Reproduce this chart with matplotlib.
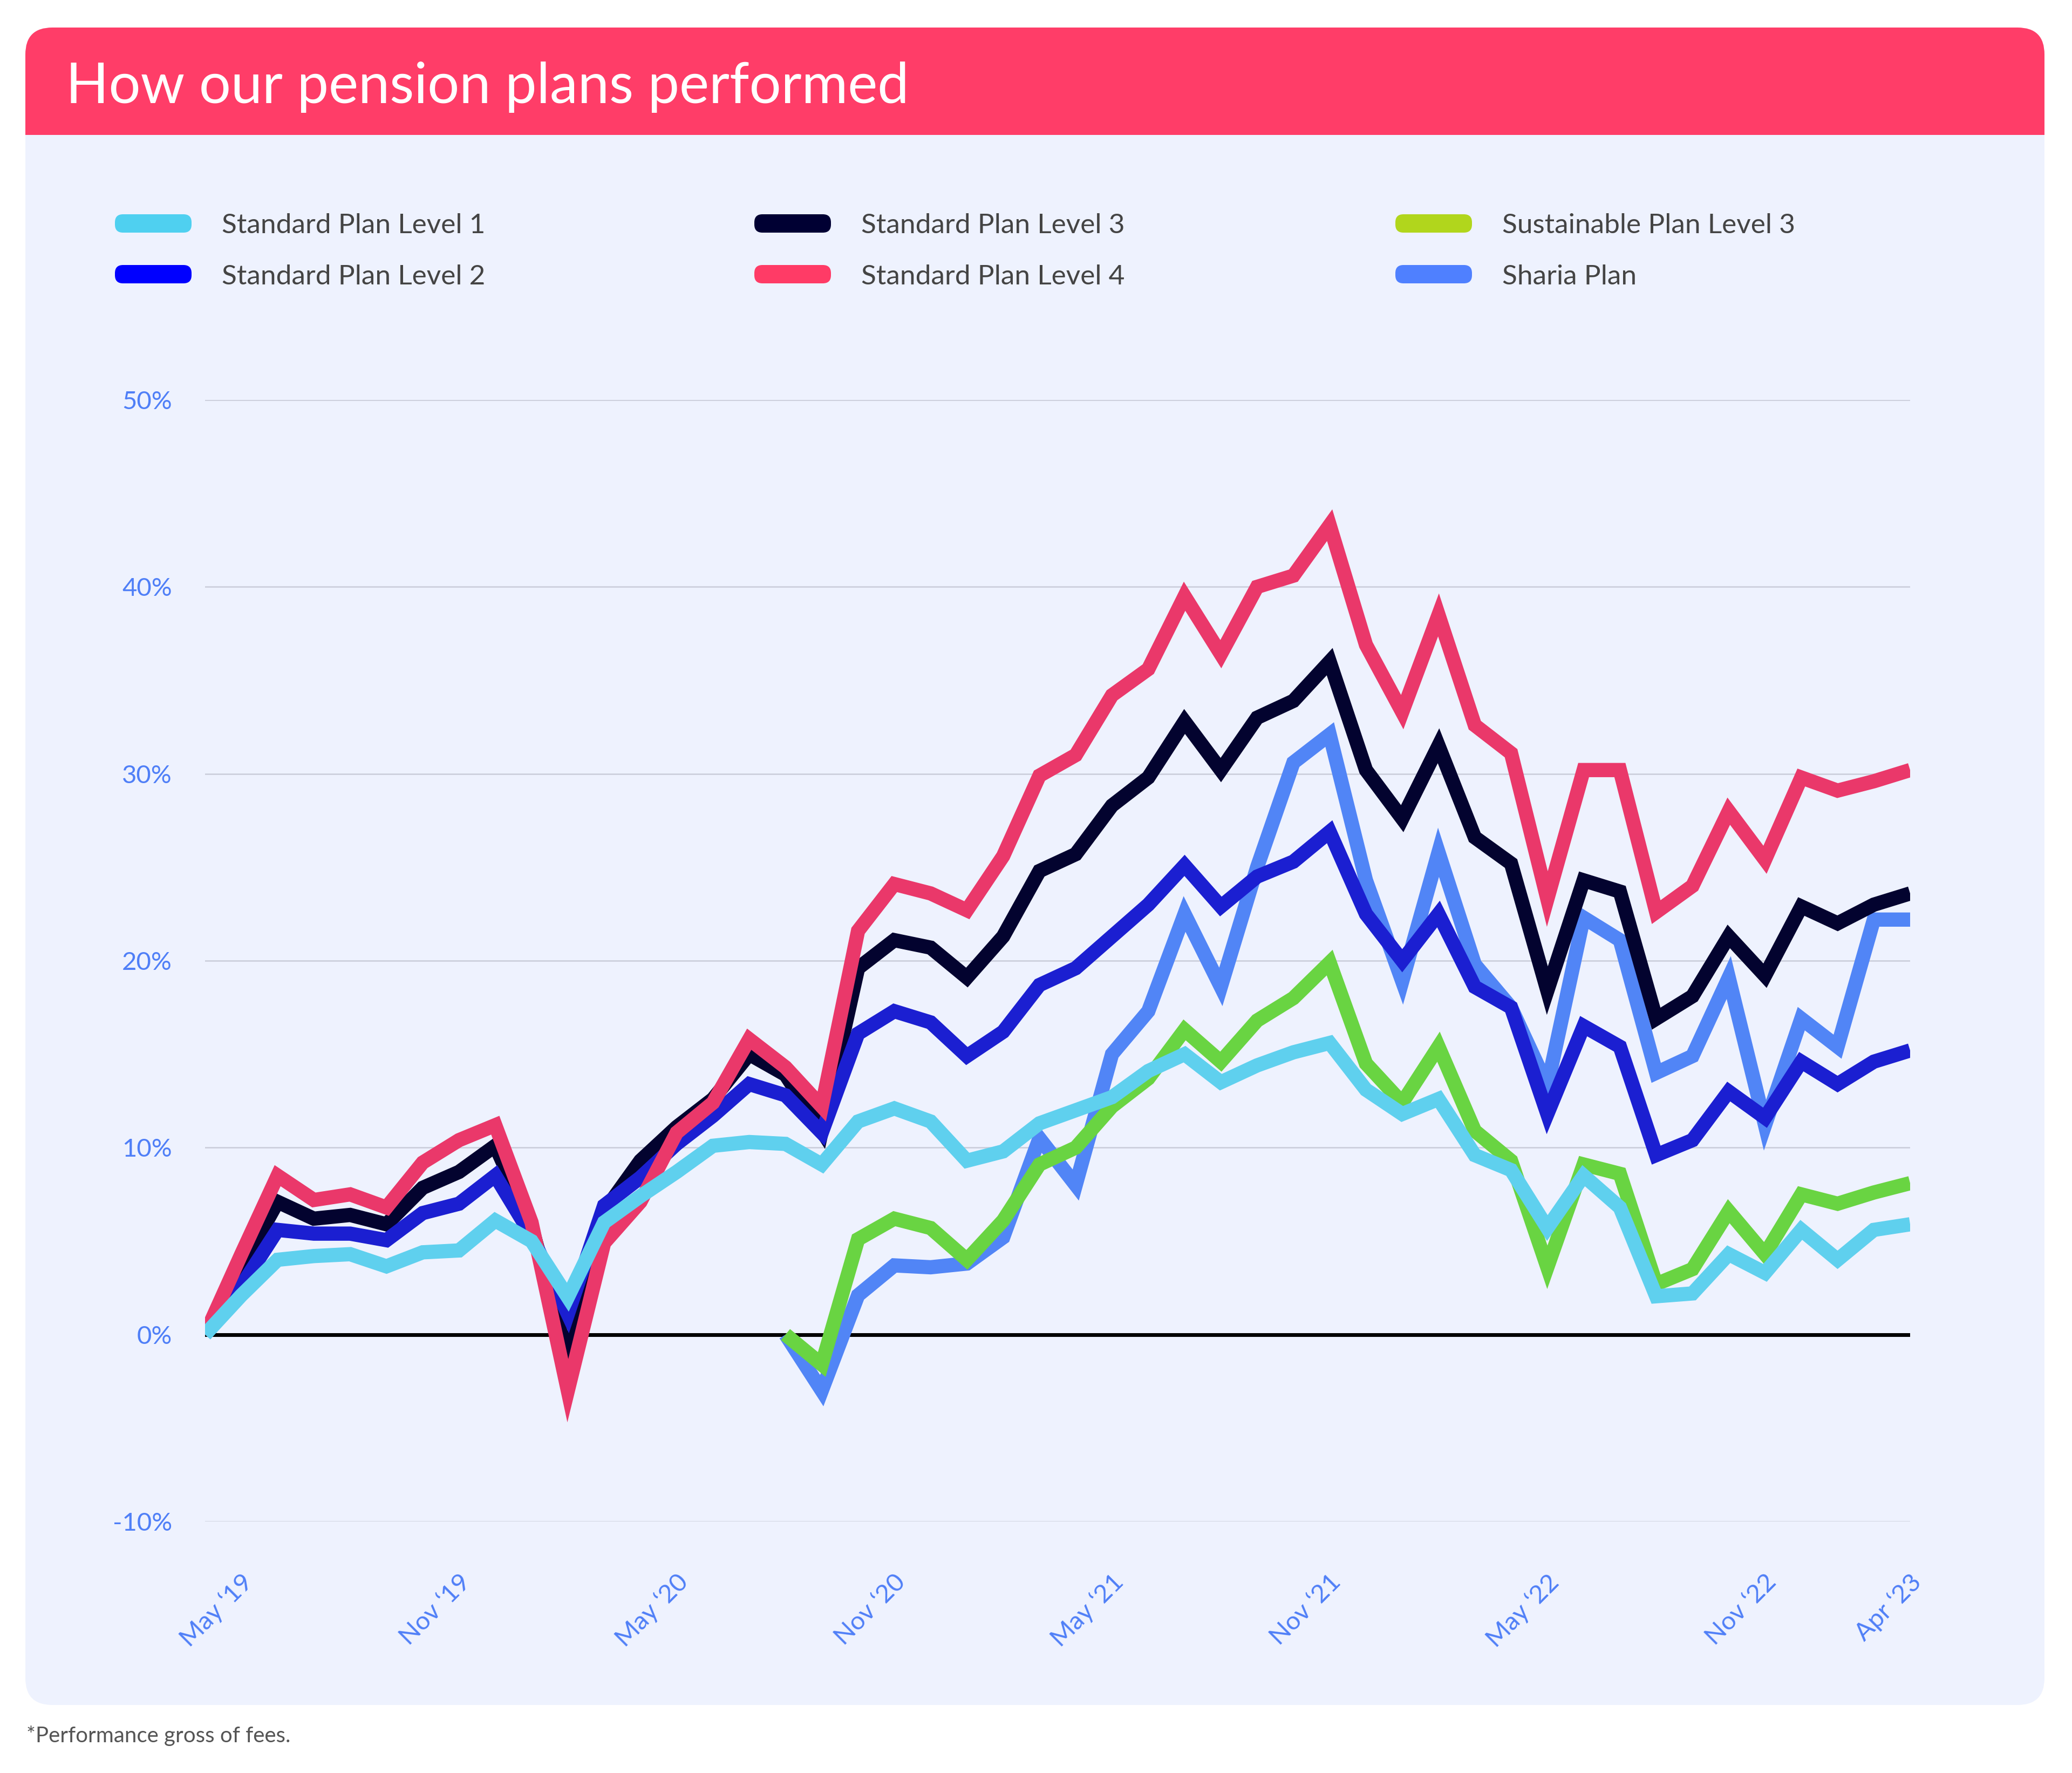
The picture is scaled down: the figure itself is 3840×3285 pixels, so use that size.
import matplotlib
matplotlib.use("Agg")
import matplotlib.pyplot as plt
from matplotlib.patches import FancyBboxPatch, Rectangle
from matplotlib.transforms import ScaledTranslation

plt.rcParams['font.family'] = ['Lato', 'DejaVu Sans']

# monthly cumulative performance (%), 48 points
level1 = [0, 2.1, 4.0, 4.2, 4.3, 3.65, 4.4, 4.5, 6.1, 5.0, 2.0, 6.0, 7.4, 8.7, 10.1, 10.3,
          10.2, 9.1, 11.4, 12.1, 11.4, 9.3, 9.8, 11.3, 12.0, 12.7, 14.1, 15.0, 13.5, 14.4, 15.1, 15.6,
          13.1, 11.8, 12.6, 9.6, 8.8, 5.7, 8.5, 6.8, 2.05, 2.2, 4.3, 3.3, 5.6, 4.0, 5.6, 5.9]
level2 = [0, 2.6, 5.6, 5.4, 5.4, 5.05, 6.5, 7.0, 8.5, 5.3, 1.1, 6.9, 8.4, 10.2, 11.7, 13.4,
          12.8, 10.8, 16.1, 17.3, 16.7, 14.9, 16.2, 18.7, 19.6, 21.3, 23.0, 25.1, 22.9, 24.5, 25.3, 26.9,
          22.5, 20.0, 22.5, 18.6, 17.5, 11.8, 16.5, 15.4, 9.6, 10.4, 13.0, 11.6, 14.6, 13.4, 14.6, 15.2]
level3 = [0, 3.6, 7.1, 6.2, 6.4, 5.9, 7.85, 8.7, 10.1, 5.8, -1.3, 6.6, 9.3, 11.1, 12.6, 15.0,
          13.9, 10.9, 19.6, 21.1, 20.7, 19.1, 21.3, 24.8, 25.7, 28.3, 29.8, 32.8, 30.2, 33.0, 33.9, 36.0,
          30.2, 27.6, 31.5, 26.6, 25.2, 18.4, 24.3, 23.7, 16.9, 18.1, 21.3, 19.2, 22.9, 22.0, 23.0, 23.6]
level4 = [0, 4.3, 8.5, 7.2, 7.5, 6.8, 9.2, 10.4, 11.2, 6.0, -3.0, 4.9, 7.1, 10.8, 12.4, 15.8,
          14.3, 12.2, 21.6, 24.1, 23.6, 22.7, 25.6, 29.9, 31.0, 34.2, 35.6, 39.5, 36.4, 40.0, 40.6, 43.3,
          36.9, 33.3, 38.5, 32.6, 31.1, 23.3, 30.2, 30.2, 22.6, 24.0, 28.0, 25.4, 29.8, 29.1, 29.6, 30.2]
sustainable = [None] * 16 + [0, -1.6, 5.1, 6.2, 5.7, 4.0, 6.1, 9.1, 10.0, 12.2, 13.7, 16.3, 14.6, 16.8, 18.0, 19.9,
                             14.5, 12.4, 15.4, 10.9, 9.3, 3.6, 9.1, 8.6, 2.7, 3.5, 6.6, 4.3, 7.5, 7.0, 7.6, 8.1]
sharia = [None] * 16 + [0, -3.0, 2.1, 3.7, 3.6, 3.8, 5.2, 10.5, 8.0, 15.0, 17.3, 22.5, 18.6, 25.0, 30.6, 32.1,
                        24.3, 18.9, 25.8, 19.8, 17.5, 13.3, 22.3, 21.1, 14.0, 14.9, 19.1, 11.2, 16.9, 15.4, 22.2, 22.2]

names = ['Standard Plan Level 1', 'Standard Plan Level 2', 'Standard Plan Level 3',
         'Standard Plan Level 4', 'Sustainable Plan Level 3', 'Sharia Plan']
series = [level1, level2, level3, level4, sustainable, sharia]
line_colors = ['#5fd0ee', '#1b1fd1', '#03032f', '#ea386a', '#69d442', '#5185f6']
legend_colors = ['#4fd0f0', '#0000ff', '#000033', '#ff3b66', '#b1d61c', '#4f80ff']
zorders = [8, 6, 4, 7, 3, 2]

tick_idx = [1, 7, 13, 19, 25, 31, 37, 43, 47]
tick_labels = ['May \u201819', 'Nov \u201819', 'May \u201820', 'Nov \u201820', 'May \u201821',
               'Nov \u201821', 'May \u201822', 'Nov \u201822', 'Apr \u201823']
y_ticks = [-10, 0, 10, 20, 30, 40, 50]

W, H = 38.40, 32.85
fig = plt.figure(figsize=(W, H), dpi=100)
fig.patch.set_facecolor('white')
tr = fig.dpi_scale_trans

# panel + header
panel = FancyBboxPatch((0.47, 1.26), 37.42, 31.08, boxstyle='round,pad=0,rounding_size=0.5',
                       transform=tr, facecolor='#eef2fe', edgecolor='none', zorder=-3)
fig.patches.append(panel)
header = FancyBboxPatch((0.47, 30.35), 37.42, 1.99, boxstyle='round,pad=0,rounding_size=0.5',
                        transform=tr, facecolor='#ff3d68', edgecolor='none', zorder=-2)
fig.patches.append(header)
fig.patches.append(Rectangle((0.47, 30.35), 37.42, 1.0, transform=tr,
                             facecolor='#ff3d68', edgecolor='none', zorder=-2))
fig.text(1.22 / W, 30.94 / H, 'How our pension plans performed', color='white',
         fontsize=75, ha='left', va='baseline', zorder=3)

# legend
col_x = [2.13, 13.98, 25.86]
row_y = [28.71, 27.77]
order = [0, 2, 4, 1, 3, 5]
for k, si in enumerate(order):
    r, c = k // 3, k % 3
    x0, y0 = col_x[c], row_y[r]
    sw = FancyBboxPatch((x0, y0 - 0.17), 1.42, 0.34, boxstyle='round,pad=0,rounding_size=0.15',
                        transform=tr, facecolor=legend_colors[si], edgecolor='none', zorder=-1)
    fig.patches.append(sw)
    fig.text((x0 + 1.98) / W, y0 / H, names[si], color='#444444', fontsize=37,
             ha='left', va='center_baseline', zorder=3)

fig.text(0.49 / W, 0.57 / H, '*Performance gross of fees.', color='#555555',
         fontsize=29, ha='left', va='baseline')

# chart
ax = fig.add_axes([3.80 / W, 4.66 / H, 31.60 / W, 20.78 / H])
ax.set_zorder(2)
ax.set_facecolor('none')
x = list(range(len(level1)))
for s, col, z in zip(series, line_colors, zorders):
    xs = [xi for xi, v in zip(x, s) if v is not None]
    ys = [v for v in s if v is not None]
    ax.plot(xs, ys, color=col, lw=19, solid_joinstyle='miter', solid_capstyle='butt', zorder=z)

for yt in y_ticks:
    if yt == 0:
        ax.axhline(0, color='black', lw=5, zorder=1)
    else:
        ax.axhline(yt, color='#c9ccd9', lw=1.8, zorder=0)

ax.set_xlim(0, len(level1) - 1)
ax.set_ylim(-10, 50)
ax.set_yticks(y_ticks)
ax.set_yticklabels([f'{v}%' for v in y_ticks])
ax.set_xticks(tick_idx)
ax.set_xticklabels(tick_labels, rotation=45, ha='right', va='center', rotation_mode='anchor')
ax.tick_params(axis='y', length=0, pad=44, labelsize=34, labelcolor='#4f7ff7')
ax.tick_params(axis='x', length=0, pad=76, labelsize=34, labelcolor='#4f7ff7')
shift = ScaledTranslation(0.14, 0, fig.dpi_scale_trans)
for lab in ax.get_xticklabels():
    lab.set_transform(lab.get_transform() + shift)
for sp in ax.spines.values():
    sp.set_visible(False)

fig.savefig('out.png', dpi=100)
